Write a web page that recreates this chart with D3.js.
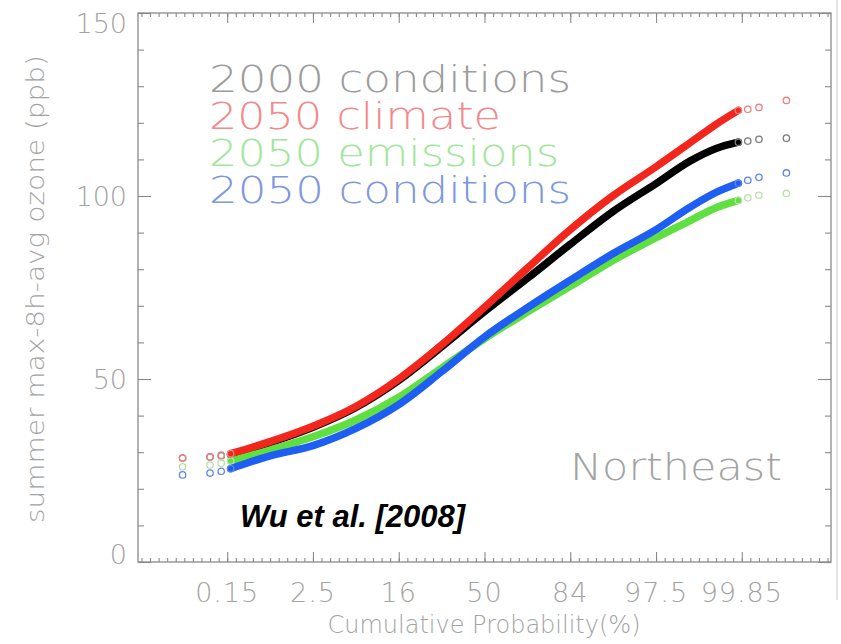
<!DOCTYPE html>
<html>
<head>
<meta charset="utf-8">
<script src="https://cdn.jsdelivr.net/npm/d3@7"></script>
<style>
  html, body { margin: 0; padding: 0; background: #ffffff; }
  svg { display: block; }
</style>
</head>
<body>
<svg id="chart" width="841" height="644"></svg>
<script>
// ---- data (x positions as normal-quantile z scores of cumulative probability) ----
const zScores = [-3.52, -3.2, -3.07, -2.96, -2.5, -2, -1.5, -1, -0.5, 0, 0.5, 1, 1.5, 2, 2.4, 2.7, 2.96, 3.07, 3.2, 3.52];
const cond2000  = [28.4, 28.7, 29.0, 29.3, 32.6, 36.8, 42.2, 49.6, 58.8, 68.4, 77.5, 86.8, 95.8, 103.4, 109.6, 113.0, 114.7, 115.0, 115.5, 115.8];
const climate2050 = [28.4, 28.7, 29.2, 29.6, 32.9, 37.1, 42.5, 50.0, 59.3, 69.6, 80.3, 90.8, 100.1, 108.0, 114.6, 119.6, 123.4, 123.7, 124.2, 126.1];
const emissions2050 = [26.0, 26.5, 27.0, 27.6, 30.6, 34.2, 38.8, 45.0, 53.0, 61.0, 68.3, 75.3, 82.4, 88.6, 93.3, 96.8, 98.8, 99.5, 100.2, 100.7];
const cond2050 = [23.8, 24.3, 24.8, 25.5, 29.0, 31.8, 36.5, 43.0, 52.0, 61.5, 69.5, 77.0, 84.3, 90.8, 97.0, 101.0, 103.5, 104.3, 105.1, 106.3];
const seriesNames = ["2000 conditions", "2050 climate", "2050 emissions", "2050 conditions"];
const probTickZ = [-3, -2, -1, 0, 1, 2, 3];
const probTickLabels = ["0.15", "2.5", "16", "50", "84", "97.5", "99.85"];
const yTickValues = [0, 50, 100, 150];

const svg = d3.select("#chart");
const L = 138, R = 831, T = 13, B = 562;
const x = d3.scaleLinear().domain([-4.04, 4.04]).range([L, R]);
const y = d3.scaleLinear().domain([0, 150]).range([B, T]);

const axisGray = "#8a8a8a";
const textGray = "#a3a3a3";
const lightFont = "'DejaVu Sans', sans-serif";

// frame
svg.append("rect").attr("x", L).attr("y", T).attr("width", R - L).attr("height", B - T)
  .attr("fill", "none").attr("stroke", axisGray).attr("stroke-width", 1.3);
svg.append("line").attr("x1", 837).attr("x2", 837).attr("y1", 0).attr("y2", 600)
  .attr("stroke", "#c8c8c8").attr("stroke-width", 1);

// axes ticks with d3 axes
const minorX = d3.range(-40, 41).map(d => d / 10);
const bottomMinor = d3.axisTop(x).tickValues(minorX).tickSize(4).tickFormat("");
const bottomMajor = d3.axisTop(x).tickValues(probTickZ).tickSize(10).tickFormat("");
const topMinor = d3.axisBottom(x).tickValues(minorX).tickSize(4).tickFormat("");
const topMajor = d3.axisBottom(x).tickValues(probTickZ).tickSize(10).tickFormat("");
const minorY = d3.range(0, 151, 10);
const leftMinor = d3.axisRight(y).tickValues(minorY).tickSize(6).tickFormat("");
const leftMajor = d3.axisRight(y).tickValues(yTickValues).tickSize(13).tickFormat("");
const rightMinor = d3.axisLeft(y).tickValues(minorY).tickSize(6).tickFormat("");
const rightMajor = d3.axisLeft(y).tickValues(yTickValues).tickSize(13).tickFormat("");

function styleAxis(g) {
  g.select(".domain").remove();
  g.selectAll("line").attr("stroke", axisGray).attr("stroke-width", 1.1);
}
svg.append("g").attr("transform", `translate(0,${B})`).call(bottomMinor).call(styleAxis);
svg.append("g").attr("transform", `translate(0,${B})`).call(bottomMajor).call(styleAxis);
svg.append("g").attr("transform", `translate(0,${T})`).call(topMinor).call(styleAxis);
svg.append("g").attr("transform", `translate(0,${T})`).call(topMajor).call(styleAxis);
svg.append("g").attr("transform", `translate(${L},0)`).call(leftMinor).call(styleAxis);
svg.append("g").attr("transform", `translate(${L},0)`).call(leftMajor).call(styleAxis);
svg.append("g").attr("transform", `translate(${R},0)`).call(rightMinor).call(styleAxis);
svg.append("g").attr("transform", `translate(${R},0)`).call(rightMajor).call(styleAxis);

// tick labels
svg.append("g").selectAll("text").data(probTickZ).join("text")
  .attr("x", d => x(d)).attr("y", 602)
  .attr("text-anchor", "middle")
  .attr("font-family", lightFont).attr("font-weight", 200).attr("font-size", 27)
  .attr("letter-spacing", 1)
  .attr("fill", textGray)
  .text((d, i) => probTickLabels[i]);
svg.append("g").selectAll("text").data(yTickValues).join("text")
  .attr("x", 127).attr("y", d => Math.min(Math.max(y(d) + 10, 33), 564))
  .attr("text-anchor", "end")
  .attr("font-family", lightFont).attr("font-weight", 200).attr("font-size", 27)
  .attr("fill", textGray)
  .text(d => d);

// axis titles
svg.append("text")
  .attr("x", 484).attr("y", 633).attr("text-anchor", "middle")
  .attr("font-family", lightFont).attr("font-weight", 200).attr("font-size", 24)
  .attr("fill", textGray)
  .text("Cumulative Probability(%)");
svg.append("text")
  .attr("transform", "translate(44,289) rotate(-90)")
  .attr("text-anchor", "middle")
  .attr("font-family", lightFont).attr("font-weight", 200).attr("font-size", 25)
  .attr("fill", textGray)
  .attr("textLength", 468).attr("lengthAdjust", "spacingAndGlyphs")
  .text("summer max-8h-avg ozone (ppb)");

// series
const series = [
  { name: seriesNames[0], values: cond2000, line: "#000000", mark: "#7a7a7a" },
  { name: seriesNames[2], values: emissions2050, line: "#5fe040", mark: "#b8e0a8" },
  { name: seriesNames[3], values: cond2050, line: "#1e5ef2", mark: "#5d86e6" },
  { name: seriesNames[1], values: climate2050, line: "#f2261c", mark: "#f08080" }
];
const denseIdx = d3.range(3, 17);
const tailIdx = [0, 1, 2, 3, 16, 17, 18, 19];
const line = d3.line().x(i => x(zScores[i])).curve(d3.curveMonotoneX);

series.forEach(s => {
  svg.append("path")
    .datum(denseIdx)
    .attr("d", line.y(i => y(s.values[i])))
    .attr("fill", "none").attr("stroke", s.line).attr("stroke-width", 7.5)
    .attr("stroke-linecap", "round").attr("stroke-linejoin", "round");
  svg.append("g").selectAll("circle").data(tailIdx).join("circle")
    .attr("cx", i => x(zScores[i])).attr("cy", i => y(s.values[i]))
    .attr("r", 3.2).attr("fill", "none").attr("stroke", s.mark).attr("stroke-width", 1.3);
});

// legend text
const legendRows = [
  { label: seriesNames[0], color: "#9c9c9c", len: 362 },
  { label: seriesNames[1], color: "#f28a8a", len: 292 },
  { label: seriesNames[2], color: "#a2e69c", len: 350 },
  { label: seriesNames[3], color: "#7d98dd", len: 362 }
];
svg.append("g").selectAll("text").data(legendRows).join("text")
  .attr("x", 209).attr("y", (d, i) => 92 + i * 37)
  .attr("font-family", lightFont).attr("font-weight", 200).attr("font-size", 38)
  .attr("fill", d => d.color)
  .attr("textLength", d => d.len).attr("lengthAdjust", "spacingAndGlyphs")
  .text(d => d.label);

// region label
svg.append("text")
  .attr("x", 570).attr("y", 480)
  .attr("font-family", lightFont).attr("font-weight", 200).attr("font-size", 38)
  .attr("fill", "#a3a3a3")
  .attr("textLength", 212).attr("lengthAdjust", "spacingAndGlyphs")
  .text("Northeast");

// citation
svg.append("text")
  .attr("x", 240).attr("y", 527)
  .attr("font-family", "'Liberation Sans', Arial, sans-serif")
  .attr("font-weight", "bold").attr("font-style", "italic").attr("font-size", 31)
  .attr("fill", "#000")
  .text("Wu et al. [2008]");
</script>
</body>
</html>
